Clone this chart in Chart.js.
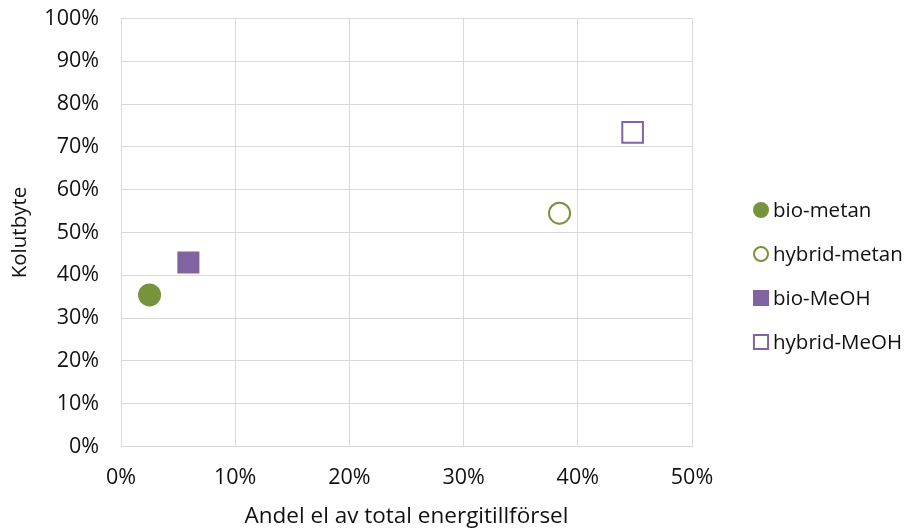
<!DOCTYPE html>
<html>
<head>
<meta charset="utf-8">
<script src="https://cdn.jsdelivr.net/npm/chart.js@4/dist/chart.umd.min.js"></script>
<style>
  html, body { margin: 0; padding: 0; background: #ffffff; }
  #wrap { width: 904px; height: 531px; }
</style>
</head>
<body>
<div id="wrap"><canvas id="c" width="904" height="531"></canvas></div>
<script>
// Series names, in legend order
const seriesNames = ['bio-metan', 'hybrid-metan', 'bio-MeOH', 'hybrid-MeOH'];
// Andel el av total energitillförsel (%)
const elShare = [2.5, 38.4, 5.9, 44.8];
// Kolutbyte (%)
const coalReplacement = [35.4, 54.5, 43.0, 73.4];
// Axis tick values (%)
const xTickValues = [0, 10, 20, 30, 40, 50];
const yTickValues = [0, 10, 20, 30, 40, 50, 60, 70, 80, 90, 100];

const GREEN = '#77933c';
const PURPLE = '#8064a2';
const FONT = '"Open Sans", "Liberation Sans", sans-serif';
const TEXT = '#111111';
const GRID = '#d9d9d9';

const styles = [
  { pointStyle: 'circle', radius: 11.5, bg: GREEN, border: GREEN, bw: 0, lr: 8, lbw: 0 },
  { pointStyle: 'circle', radius: 10.5, bg: '#ffffff', border: GREEN, bw: 2, lr: 7, lbw: 2 },
  { pointStyle: 'rect', radius: 15.6, bg: PURPLE, border: PURPLE, bw: 0, lr: 11.3, lbw: 0 },
  { pointStyle: 'rect', radius: 14.6, bg: '#ffffff', border: PURPLE, bw: 2, lr: 10, lbw: 2 }
];

const datasets = seriesNames.map((name, i) => ({
  label: name,
  data: [{ x: elShare[i], y: coalReplacement[i] }],
  pointStyle: styles[i].pointStyle,
  pointRadius: styles[i].radius,
  pointBackgroundColor: styles[i].bg,
  pointBorderColor: styles[i].border,
  pointBorderWidth: styles[i].bw,
  showLine: false
}));

// Legend drawn to the right of the plot, one row per series
const sideLegend = {
  id: 'sideLegend',
  afterDraw(chart) {
    const ctx = chart.ctx;
    const x0 = 761, y0 = 210, step = 44;
    ctx.save();
    chart.data.datasets.forEach((ds, i) => {
      const s = styles[i];
      const y = y0 + i * step;
      ctx.fillStyle = s.bg;
      ctx.strokeStyle = s.border;
      ctx.lineWidth = s.lbw;
      Chart.helpers.drawPoint(ctx, { pointStyle: s.pointStyle, radius: s.lr, borderWidth: s.lbw, rotation: 0 }, x0, y);
      ctx.fillStyle = TEXT;
      ctx.font = '20.5px ' + FONT;
      ctx.textBaseline = 'middle';
      ctx.textAlign = 'left';
      ctx.fillText(ds.label, 773, y + 1);
    });
    ctx.restore();
  }
};

new Chart(document.getElementById('c'), {
  type: 'scatter',
  data: { datasets },
  options: {
    responsive: false,
    animation: false,
    events: [],
    layout: { padding: { left: 0, top: 18.5, right: 212, bottom: 0 } },
    plugins: {
      legend: { display: false },
      tooltip: { enabled: false }
    },
    scales: {
      x: {
        type: 'linear',
        min: 0, max: 50,
        afterBuildTicks(scale) { scale.ticks = xTickValues.map(v => ({ value: v })); },
        afterFit(scale) { scale.height = 84.5; scale.paddingLeft = 0; scale.paddingRight = 0; },
        grid: { color: GRID, lineWidth: 1, drawTicks: false },
        border: { display: true, color: GRID, width: 1 },
        ticks: {
          padding: 18,
          color: TEXT,
          font: { family: FONT, size: 21.5 },
          callback: v => v + '%'
        },
        title: {
          display: true,
          text: 'Andel el av total energitillförsel',
          color: TEXT,
          font: { family: FONT, size: 22.5 },
          padding: { top: 0, bottom: 1 }
        }
      },
      y: {
        type: 'linear',
        min: 0, max: 100,
        afterBuildTicks(scale) { scale.ticks = yTickValues.map(v => ({ value: v })); },
        afterFit(scale) { scale.width = 121; scale.paddingTop = 0; scale.paddingBottom = 0; },
        grid: { color: GRID, lineWidth: 1, drawTicks: false },
        border: { display: true, color: GRID, width: 1 },
        ticks: {
          padding: 22,
          color: TEXT,
          font: { family: FONT, size: 21.5 },
          callback: v => v + '%'
        },
        title: {
          display: true,
          text: 'Kolutbyte',
          color: TEXT,
          font: { family: FONT, size: 20.5 },
          padding: { top: 8, bottom: 0 }
        }
      }
    }
  },
  plugins: [sideLegend]
});
</script>
</body>
</html>
